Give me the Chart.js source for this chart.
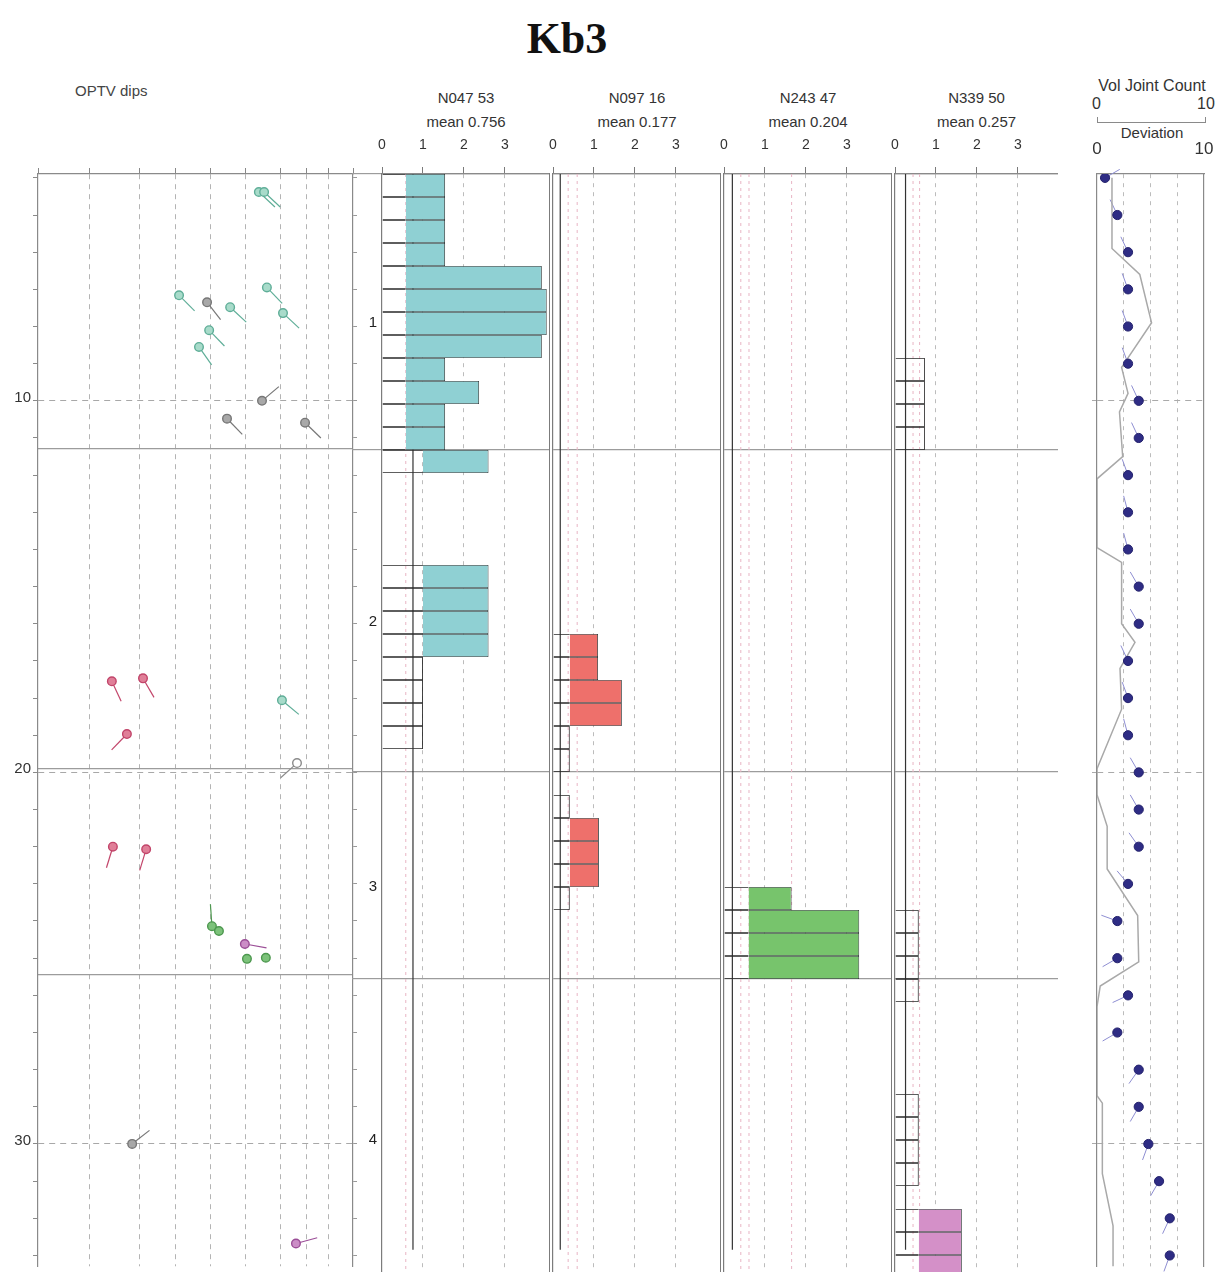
<!DOCTYPE html>
<html>
<head>
<meta charset="utf-8">
<title>Kb3</title>
<script src="https://cdn.jsdelivr.net/npm/chart.js@4.4.1/dist/chart.umd.min.js"></script>
<style>
  html, body { margin: 0; padding: 0; background: #fff; }
  #page { position: relative; width: 1225px; height: 1272px; overflow: hidden; background: #fff;
          font-family: "Liberation Sans", Arial, sans-serif; color: #333; }
  #page canvas { position: absolute; }
  .txt { position: absolute; white-space: nowrap; line-height: 1; }
  .ctr { transform: translateX(-50%); }
</style>
</head>
<body>
<div id="page">
  <div class="txt ctr" style="left:567px; top:13px; font: bold 44px 'Liberation Serif', 'Times New Roman', serif; color:#111;">Kb3</div>
  <div class="txt" style="left:75px; top:83px; font-size:15px; color:#444;">OPTV dips</div>
  <div class="txt ctr" style="left:1152px; top:78px; font-size:16px; color:#333;">Vol Joint Count</div>
  <div class="txt" style="left:1092px; top:96px; font-size:16px; color:#333;">0</div>
  <div class="txt" style="left:1197px; top:96px; font-size:16px; color:#333;">10</div>
  <div style="position:absolute; left:1097px; top:117px; width:107px; height:5px; border:1px solid #8a8a8a; border-top:none;"></div>
  <div class="txt ctr" style="left:1152px; top:125px; font-size:15px; color:#333;">Deviation</div>
</div>
<script>
// ---------- depth frame (m) ----------
const DEPTH_MIN = 3.896;
const DEPTH_MAX = 33.294;
const BIN_TOP = 3.896;
const BIN_SIZE = 0.6158;
const MEAN_LINE_END = 32.7;

// zones, as bin-edge indices, and their labels
const zoneEdgeBins = [0, 12, 26, 35, 48];
const zoneNames = ['1', '2', '3', '4'];
const depthLabelValues = [10, 20, 30];
const depthTickValues = [4, 5, 6, 7, 8, 9, 10, 11, 12, 13, 14, 15, 16, 17, 18, 19, 20,
                         21, 22, 23, 24, 25, 26, 27, 28, 29, 30, 31, 32, 33];

// ---------- joint-set histograms ----------
const setNames = ['N047 53', 'N097 16', 'N243 47', 'N339 50'];
const setMeans = [0.756, 0.177, 0.204, 0.257];
const histTickValues = [0, 1, 2, 3];

const n047Bins   = [0, 1, 2, 3, 4, 5, 6, 7, 8, 9, 10, 11, 12, 17, 18, 19, 20, 21, 22, 23, 24];
const n047Counts = [1.54, 1.54, 1.54, 1.54, 3.9, 4.02, 4.02, 3.9, 1.54, 2.37, 1.54, 1.54,
                    2.6, 2.6, 2.6, 2.6, 2.6, 1, 1, 1, 1];
const n047Levels = [0.58, 0.58, 0.58, 0.58, 0.58, 0.58, 0.58, 0.58, 0.58, 0.58, 0.58, 0.58,
                    1, 1, 1, 1, 1, 1, 1, 1, 1];
const n047Refs   = [0.58];

const n097Bins   = [20, 21, 22, 23, 24, 25, 27, 28, 29, 30, 31];
const n097Counts = [1.1, 1.1, 1.68, 1.68, 0.41, 0.41, 0.41, 1.12, 1.12, 1.12, 0.41];
const n097Levels = [0.41, 0.41, 0.41, 0.41, 0.41, 0.41, 0.41, 0.41, 0.41, 0.41, 0.41];
const n097Refs   = [0.37, 0.59];

const n243Bins   = [31, 32, 33, 34];
const n243Counts = [1.65, 3.3, 3.3, 3.3];
const n243Levels = [0.6, 0.6, 0.6, 0.6];
const n243Refs   = [0.41, 0.61, 1.65];

const n339Bins   = [8, 9, 10, 11, 32, 33, 34, 35, 40, 41, 42, 43, 45, 46, 47];
const n339Counts = [0.73, 0.73, 0.73, 0.73, 0.58, 0.58, 0.58, 0.58, 0.58, 0.58, 0.58, 0.58, 1.63, 1.63, 1.63];
const n339Levels = [0.73, 0.73, 0.73, 0.73, 0.58, 0.58, 0.58, 0.58, 0.58, 0.58, 0.58, 0.58, 0.58, 0.58, 0.58];
const n339Refs   = [0.44, 0.6];

// ---------- OPTV dip tadpoles ----------
const dipAxisTicks = [0, 14.6, 29.1, 39.4, 49.4, 59.4, 69.4, 76.6, 83.1, 90];
const dipDepths = [4.38, 4.38, 7.16, 7.35, 7.48, 6.95, 7.64, 8.10, 8.55, 10.0, 10.48, 10.59, 17.55,
                   17.47, 18.06, 18.97, 19.75, 22.0, 22.07, 24.14, 24.27, 24.62, 25.02, 24.99, 30.0, 32.68];
const dipAngles = [63.1, 64.6, 40.3, 48.3, 54.9, 65.4, 70.0, 48.9, 46.0, 64.0, 54.0, 76.3, 21.1,
                   30.0, 69.7, 25.4, 74.0, 21.4, 30.9, 49.7, 51.7, 59.1, 59.7, 65.1, 26.9, 73.7];
const dipAzimuths = [133, 133, 135, 142, 133, 136, 133, 136, 145, 50, 136, 134, 155,
                     150, 130, 224, 228, 197, 197, 356, null, 100, null, null, 52, 75];
const dipSets = ['N047', 'N047', 'N047', 'none', 'N047', 'N047', 'N047', 'N047', 'N047', 'none', 'none', 'none', 'N097',
                 'N097', 'N047', 'N097', 'open', 'N097', 'N097', 'N243', 'N243', 'N339', 'N243', 'N243', 'none', 'N339'];

// ---------- deviation and volumetric joint count ----------
const devDepths = [4, 5, 6, 7, 8, 9, 10, 11, 12, 13, 14, 15, 16, 17, 18, 19, 20,
                   21, 22, 23, 24, 25, 26, 27, 28, 29, 30, 31, 32, 33];
const devValues = [0.75, 1.9, 2.9, 2.9, 2.9, 2.9, 3.9, 3.9, 2.9, 2.9, 2.9, 3.9, 3.9, 2.9, 2.9, 2.9, 3.9,
                   3.9, 3.9, 2.9, 1.9, 1.9, 2.9, 1.9, 3.9, 3.9, 4.8, 5.8, 6.8, 6.8];
const devAzimuths = [60, 335, 335, 340, 340, 340, 335, 335, 340, 345, 345, 330, 330, 335, 340, 345, 330,
                     330, 325, 320, 290, 240, 245, 240, 215, 210, 200, 210, 205, 200];
const devTickValues = [0, 2.5, 5, 7.5, 10];

const volDepths = [4.0, 5.9, 6.6, 7.9, 9.1, 9.8, 10.3, 11.5, 12.1, 13.95, 14.35, 16.0, 16.5, 17.2,
                   18.3, 19.9, 20.6, 21.45, 22.6, 23.85, 25.1, 25.75, 26.3, 28.7, 28.9, 30.8, 32.2, 33.3];
const volCounts = [1.4, 1.4, 4.0, 5.1, 2.3, 2.9, 2.1, 2.4, 0, 0, 2.3, 2.3, 3.55, 2.15,
                   2.3, 0, 0, 0.95, 0.95, 3.8, 3.9, 0.3, 0, 0, 0.5, 0.5, 1.5, 1.5];

// ---------- styles ----------
const setColors = ['#8fd0d3', '#ee706b', '#77c46c', '#d490c8'];
const dipStyle = {
  N047: { stroke: '#5fae98', fill: '#a8dbca' },
  N097: { stroke: '#c2456a', fill: '#e07f98' },
  N243: { stroke: '#4d984f', fill: '#7cc27a' },
  N339: { stroke: '#9b4e97', fill: '#cb8dc6' },
  none: { stroke: '#777777', fill: '#a8a8a8' },
  open: { stroke: '#8a8a8a', fill: '#ffffff' }
};
const CLEAR = 'rgba(0,0,0,0)';
const GRID_DASH = '#bcbcbc';
const FRAME = '#8a8a8a';

Chart.defaults.font.family = '"Liberation Sans", Arial, sans-serif';
Chart.defaults.color = '#333';

const binCentre = b => BIN_TOP + (b + 0.5) * BIN_SIZE;
const binEdge = b => BIN_TOP + b * BIN_SIZE;
const zoneEdges = zoneEdgeBins.slice(0, -1).map(binEdge);
const zoneMids = zoneNames.map((_, i) => binEdge((zoneEdgeBins[i] + zoneEdgeBins[i + 1]) / 2));

const page = document.getElementById('page');
function addCanvas(left, top, w, h) {
  const c = document.createElement('canvas');
  c.width = w; c.height = h;
  c.style.left = left + 'px'; c.style.top = top + 'px';
  c.style.width = w + 'px'; c.style.height = h + 'px';
  page.appendChild(c);
  return c;
}
function addText(text, x, y, size) {
  const d = document.createElement('div');
  d.className = 'txt ctr';
  d.style.left = x + 'px'; d.style.top = y + 'px'; d.style.fontSize = size + 'px';
  d.textContent = text;
  page.appendChild(d);
}

// draws each tadpole's tail from its point along the recorded azimuth
const tailPlugin = {
  id: 'tadpoleTails',
  beforeDatasetsDraw(chart, args, opts) {
    const ctx = chart.ctx;
    chart.data.datasets.forEach((ds, i) => {
      if (!ds.tailAzimuths) return;
      const meta = chart.getDatasetMeta(i);
      ctx.save();
      ctx.lineWidth = opts.width;
      meta.data.forEach((pt, j) => {
        const az = ds.tailAzimuths[j];
        if (az === null || az === undefined) return;
        const a = az * Math.PI / 180;
        ctx.beginPath();
        ctx.moveTo(pt.x + Math.sin(a) * opts.start, pt.y - Math.cos(a) * opts.start);
        ctx.lineTo(pt.x + Math.sin(a) * opts.length, pt.y - Math.cos(a) * opts.length);
        ctx.strokeStyle = ds.tailColors[j];
        ctx.stroke();
      });
      ctx.restore();
    });
  }
};

const baseOptions = () => ({
  responsive: false, animation: false, devicePixelRatio: 1,
  layout: { padding: 0 },
  plugins: { legend: { display: false }, tooltip: { enabled: false } }
});

const FRAME_TOP = 130, FRAME_H = 1142, AXIS_H = 44;

// ---------- OPTV dips ----------
(function () {
  const canvas = addCanvas(0, FRAME_TOP, 360, FRAME_H);
  const opts = baseOptions();
  opts.plugins.tadpoleTails = { length: 22, start: 3, width: 1.2 };
  opts.scales = {
    x: {
      type: 'linear', position: 'top', min: 0, max: 90,
      afterBuildTicks: s => { s.ticks = dipAxisTicks.map(v => ({ value: v })); },
      afterFit: s => { s.height = AXIS_H; s.paddingLeft = 0; s.paddingRight = 0; },
      ticks: { display: false },
      grid: { color: c => (c.tick && (c.tick.value === 0 || c.tick.value === 90)) ? CLEAR : '#b4b4b4',
              tickColor: '#888', tickLength: 6, lineWidth: 1 },
      border: { display: true, color: FRAME, width: 1.2, dash: [5, 5] }
    },
    y: {
      type: 'linear', position: 'left', reverse: true, min: DEPTH_MIN, max: DEPTH_MAX,
      afterBuildTicks: s => { s.ticks = depthTickValues.map(v => ({ value: v })); },
      afterFit: s => { s.width = 38; s.paddingTop = 0; s.paddingBottom = 0; },
      ticks: { autoSkip: false, font: { size: 15 }, color: '#333', padding: 2, labelOffset: -3,
               callback: v => depthLabelValues.includes(v) ? String(v) : '' },
      grid: { color: c => (c.tick && depthLabelValues.includes(c.tick.value)) ? '#a8a8a8' : CLEAR,
              tickColor: '#8a8a8a', tickLength: 5, lineWidth: 1 },
      border: { display: true, color: FRAME, width: 1.2, dash: [6, 5] }
    },
    ySec: {
      type: 'linear', position: 'left', reverse: true, min: DEPTH_MIN, max: DEPTH_MAX,
      afterBuildTicks: s => { s.ticks = zoneEdges.slice(1).map(v => ({ value: v })); },
      afterFit: s => { s.width = 0; s.paddingTop = 0; s.paddingBottom = 0; },
      ticks: { display: false },
      grid: { color: '#9c9c9c', lineWidth: 1.2, drawTicks: false },
      border: { display: false }
    },
    yR: {
      type: 'linear', position: 'right', reverse: true, min: DEPTH_MIN, max: DEPTH_MAX,
      afterBuildTicks: s => { s.ticks = depthTickValues.map(v => ({ value: v })); },
      afterFit: s => { s.width = 7; s.paddingTop = 0; s.paddingBottom = 0; },
      ticks: { display: false },
      grid: { drawOnChartArea: false, tickLength: 4, tickColor: '#999', color: '#999' },
      border: { display: true, color: FRAME, width: 1.2 }
    }
  };
  new Chart(canvas, {
    type: 'scatter',
    data: {
      datasets: [{
        xAxisID: 'x', yAxisID: 'y',
        data: dipDepths.map((d, i) => ({ x: dipAngles[i], y: d })),
        pointRadius: 4.3, pointBorderWidth: 1.4,
        pointBackgroundColor: dipSets.map(s => dipStyle[s].fill),
        pointBorderColor: dipSets.map(s => dipStyle[s].stroke),
        tailAzimuths: dipAzimuths,
        tailColors: dipSets.map(s => dipStyle[s].stroke)
      }]
    },
    options: opts,
    plugins: [tailPlugin]
  });
})();

// ---------- joint-set histograms ----------
const histPanels = [
  { left: 352, axis: 30, width: 168, xMax: 4.1, zoneLabels: true, rightBorder: true,
    bins: n047Bins, counts: n047Counts, levels: n047Levels, refs: n047Refs },
  { left: 545, axis: 8, width: 168, xMax: 4.1, zoneLabels: false, rightBorder: true,
    bins: n097Bins, counts: n097Counts, levels: n097Levels, refs: n097Refs },
  { left: 716, axis: 8, width: 168, xMax: 4.1, zoneLabels: false, rightBorder: true,
    bins: n243Bins, counts: n243Counts, levels: n243Levels, refs: n243Refs },
  { left: 887, axis: 8, width: 163, xMax: 3.976, zoneLabels: false, rightBorder: false,
    bins: n339Bins, counts: n339Counts, levels: n339Levels, refs: n339Refs }
];

histPanels.forEach((p, k) => {
  const centreX = p.left + p.axis + p.width / 2;
  addText(setNames[k], centreX, 90, 15);
  addText('mean ' + setMeans[k], centreX, 114, 15);

  const canvas = addCanvas(p.left, FRAME_TOP, p.axis + p.width, FRAME_H);
  const boxData = p.bins.map((b, i) => ({ x: [0, Math.min(p.counts[i], p.levels[i])], y: binCentre(b) }));
  const boxOpen = p.bins.map((b, i) => p.counts[i] > p.levels[i]);
  const fillData = [];
  p.bins.forEach((b, i) => {
    if (p.counts[i] > p.levels[i]) fillData.push({ x: [p.levels[i], p.counts[i]], y: binCentre(b) });
  });
  const barCommon = { type: 'bar', indexAxis: 'y', xAxisID: 'x', yAxisID: 'y', grouped: false,
                      categoryPercentage: 1, barPercentage: 1, borderSkipped: false, inflateAmount: 0 };
  const EDGE = 0.7;
  const datasets = [
    Object.assign({}, barCommon, {
      data: fillData, backgroundColor: setColors[k], borderColor: '#2f3838',
      borderWidth: { top: EDGE, bottom: EDGE, right: 0.9, left: 0 }, order: 1
    }),
    Object.assign({}, barCommon, {
      data: boxData, backgroundColor: CLEAR, borderColor: '#2a2a2a',
      borderWidth: c => boxOpen[c.dataIndex] ? { top: EDGE, bottom: EDGE, left: 0, right: 0 }
                                             : { top: EDGE, bottom: EDGE, left: 0, right: 0.9 },
      order: 2
    }),
    { type: 'scatter', xAxisID: 'x', yAxisID: 'y', showLine: true, pointRadius: 0,
      data: [{ x: setMeans[k], y: DEPTH_MIN }, { x: setMeans[k], y: MEAN_LINE_END }],
      borderColor: '#333', borderWidth: 1.2, order: 3 }
  ];
  p.refs.forEach(v => datasets.push({
    type: 'scatter', xAxisID: 'x', yAxisID: 'y', showLine: true, pointRadius: 0,
    data: [{ x: v, y: DEPTH_MIN }, { x: v, y: DEPTH_MAX }],
    borderColor: '#e8b4c4', borderWidth: 1, borderDash: [3, 4], order: 4
  }));

  const yTicks = p.zoneLabels ? zoneEdges.concat(zoneMids) : zoneEdges;
  const opts = baseOptions();
  opts.scales = {
    x: {
      type: 'linear', position: 'top', min: 0, max: p.xMax, offset: false, beginAtZero: false,
      afterBuildTicks: s => { s.ticks = histTickValues.map(v => ({ value: v })); },
      afterFit: s => { s.height = AXIS_H; s.paddingLeft = 0; s.paddingRight = 0; },
      ticks: { font: { size: 14 }, color: '#333', padding: 13, autoSkip: false, maxRotation: 0,
               callback: v => String(v) },
      grid: { offset: false, color: c => (c.tick && c.tick.value === 0) ? CLEAR : GRID_DASH,
              tickColor: '#7a7a7a', tickLength: 7, lineWidth: 1 },
      border: { display: true, color: FRAME, width: 1.2, dash: [4, 5] }
    },
    y: {
      type: 'linear', position: 'left', reverse: true, min: DEPTH_MIN, max: DEPTH_MAX, offset: false,
      afterBuildTicks: s => { s.ticks = yTicks.map(v => ({ value: v })); },
      afterFit: s => { s.width = p.axis; s.paddingTop = 0; s.paddingBottom = 0; },
      ticks: { display: p.zoneLabels, autoSkip: false, font: { size: 15 }, color: '#222',
               padding: -25, labelOffset: 11,
               callback: v => { const z = zoneMids.indexOf(v); return z >= 0 ? zoneNames[z] : ''; } },
      grid: { offset: false, drawTicks: p.zoneLabels, tickLength: p.axis || 1, lineWidth: 1.2,
              color: c => (c.tick && zoneMids.includes(c.tick.value)) ? CLEAR : '#9c9c9c',
              tickColor: c => (c.tick && zoneMids.includes(c.tick.value)) ? CLEAR : '#9c9c9c' },
      border: { display: true, color: '#7c7c7c', width: 1.2 }
    },
    yR: {
      type: 'linear', position: 'right', min: 0, max: 1, display: p.rightBorder, offset: false,
      afterFit: s => { s.width = 0; s.paddingTop = 0; s.paddingBottom = 0; },
      ticks: { display: false },
      grid: { display: false },
      border: { display: true, color: '#7c7c7c', width: 1.2 }
    }
  };
  new Chart(canvas, { type: 'bar', data: { datasets }, options: opts });
});

// ---------- volumetric joint count / deviation ----------
(function () {
  const canvas = addCanvas(1060, FRAME_TOP, 165, FRAME_H);
  const opts = baseOptions();
  opts.plugins.tadpoleTails = { length: 17, start: 3, width: 1 };
  opts.scales = {
    x: {
      type: 'linear', position: 'top', min: 0, max: 10,
      afterBuildTicks: s => { s.ticks = devTickValues.map(v => ({ value: v })); },
      afterFit: s => { s.height = AXIS_H; s.paddingLeft = 0; s.paddingRight = 0; },
      ticks: { font: { size: 17 }, color: '#333', padding: 14, autoSkip: false, maxRotation: 0,
               callback: v => (v === 0 || v === 10) ? String(v) : '' },
      grid: { color: c => (c.tick && (c.tick.value === 0 || c.tick.value === 10)) ? CLEAR : GRID_DASH,
              drawTicks: false, lineWidth: 1 },
      border: { display: true, color: FRAME, width: 1.2, dash: [4, 5] }
    },
    y: {
      type: 'linear', position: 'left', reverse: true, min: DEPTH_MIN, max: DEPTH_MAX,
      afterBuildTicks: s => { s.ticks = depthLabelValues.map(v => ({ value: v })); },
      afterFit: s => { s.width = 37; s.paddingTop = 0; s.paddingBottom = 0; },
      ticks: { display: false },
      grid: { color: '#aaaaaa', tickColor: '#aaaaaa', tickLength: 5, lineWidth: 1 },
      border: { display: true, color: FRAME, width: 1.2, dash: [6, 5] }
    },
    yR: {
      type: 'linear', position: 'right', min: 0, max: 1,
      afterFit: s => { s.width = 21; s.paddingTop = 0; s.paddingBottom = 0; },
      ticks: { display: false },
      grid: { display: false },
      border: { display: true, color: FRAME, width: 1.2 }
    }
  };
  new Chart(canvas, {
    type: 'scatter',
    data: {
      datasets: [
        { label: 'Deviation', xAxisID: 'x', yAxisID: 'y',
          data: devDepths.map((d, i) => ({ x: devValues[i], y: d })),
          pointRadius: 4.6, pointBorderWidth: 1,
          pointBackgroundColor: '#2e2c84', pointBorderColor: '#24226c',
          tailAzimuths: devAzimuths, tailColors: devAzimuths.map(() => '#8e8ed2') },
        { label: 'Vol Joint Count', xAxisID: 'x', yAxisID: 'y', showLine: true, pointRadius: 0,
          data: volDepths.map((d, i) => ({ x: volCounts[i], y: d })),
          borderColor: '#a9a9a9', borderWidth: 1.5 }
      ]
    },
    options: opts,
    plugins: [tailPlugin]
  });
})();
</script>
</body>
</html>
